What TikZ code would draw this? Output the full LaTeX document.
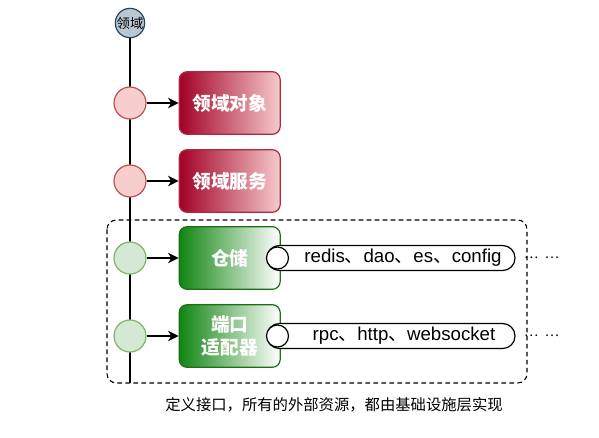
\documentclass[tikz,border=0pt]{standalone}
\usepackage{fontspec}
\setmainfont{Liberation Sans}
\newfontfamily\cjk{Noto Sans CJK SC}
\usetikzlibrary{positioning,shapes,arrows.meta}

\definecolor{hubfill}{HTML}{BAC8D3}
\definecolor{hubline}{HTML}{23445D}
\definecolor{redfill}{HTML}{F8CECC}
\definecolor{redline}{HTML}{B85450}
\definecolor{redhead}{HTML}{A20025}
\definecolor{redtail}{HTML}{F6CACB}
\definecolor{boxred}{HTML}{B0283E}
\definecolor{greenfill}{HTML}{D5E8D4}
\definecolor{greenline}{HTML}{82B366}
\definecolor{greenhead}{HTML}{118511}
\definecolor{boxgreen}{HTML}{1E6F14}

\newcommand{\dun}{{\cjk 、}}

\begin{document}
\begin{tikzpicture}[x=0.75pt,y=-0.75pt,
      every node/.style={inner sep=0pt},
      hub/.style={circle,draw=hubline,fill=hubfill,line width=0.9pt,
        minimum size=22pt,font=\cjk\fontsize{10}{12}\selectfont},
      rnode/.style={circle,draw=redline,fill=redfill,line width=0.9pt,minimum size=24pt},
      gnode/.style={circle,draw=greenline,fill=greenfill,line width=0.9pt,minimum size=24pt},
      dobox/.style={rectangle,rounded corners=6pt,line width=0.9pt,
        minimum width=75.75pt,minimum height=47pt,align=center,text=white,
        font=\cjk\bfseries\fontsize{14}{17.5}\selectfont},
      rbox/.style={dobox,draw=boxred,left color=redhead,right color=redtail},
      gbox/.style={dobox,draw=boxgreen,left color=greenhead,right color=white},
      pill/.style={rectangle,rounded corners=9.3pt,draw,fill=white,line width=0.9pt,
        minimum width=186pt,minimum height=18.75pt},
      plug/.style={circle,draw,fill=white,line width=0.9pt,minimum size=16.5pt},
      pilltext/.style={font=\fontsize{14}{16}\selectfont},
      more/.style={font=\cjk\fontsize{10}{12}\selectfont},
      arr/.style={-{Stealth[length=8pt,width=8pt,inset=2.5pt]},line width=1pt}
    ]
    \useasboundingbox (0,0) rectangle (599,437);

    % the spine
    \node[hub] (top) at (130,23) {领域};
    \coordinate (bottom) at (130,383);
    \draw[line width=1pt] (top) -- (bottom);

    % the dashed frame round the infrastructure part
    \draw[dashed,dash pattern=on 3.5pt off 2.5pt,line width=0.8pt,rounded corners=7pt]
      (107,220) rectangle (527,383);

    % the domain layer
    \foreach \y/\n in {103/r1,181/r2}
      \node[rnode] (\n) at (130,\y) {};
    \node[rbox,right=24pt of r1] (obj) {领域对象};
    \node[rbox,right=24pt of r2] (svc) {领域服务};

    % the ports
    \foreach \y/\n in {258/g1,336/g2}
      \node[gnode] (\n) at (130,\y) {};
    \node[gbox,right=24pt of g1] (repo) {仓储};
    \node[gbox,right=24pt of g2] (port) {端口\\适配器};

    % the resources behind them
    \node[pill] (p1) at (391,258) {};
    \node[pill] (p2) at (391,336) {};
    \node[plug] (k1) at (277.5,258) {};
    \node[plug] (k2) at (277.5,336) {};
    \node[pilltext] (t1) at (403,258) {redis\dun dao\dun es\dun config};
    \node[pilltext] (t2) at (404,336) {rpc\dun http\dun websocket};
    \node[more] (m1) at (541.5,258) {…\hspace{5pt}…};
    \node[more] (m2) at (541.5,336) {…\hspace{5pt}…};

    % the arrows
    \foreach \a/\b in {r1/obj,r2/svc,g1/repo,g2/port}
      \draw[arr] (\a) -- (\b);

    \node[font=\cjk\fontsize{11.5}{14}\selectfont] (note) at (334,405)
      {定义接口，所有的外部资源，都由基础设施层实现};
\end{tikzpicture}
\end{document}
